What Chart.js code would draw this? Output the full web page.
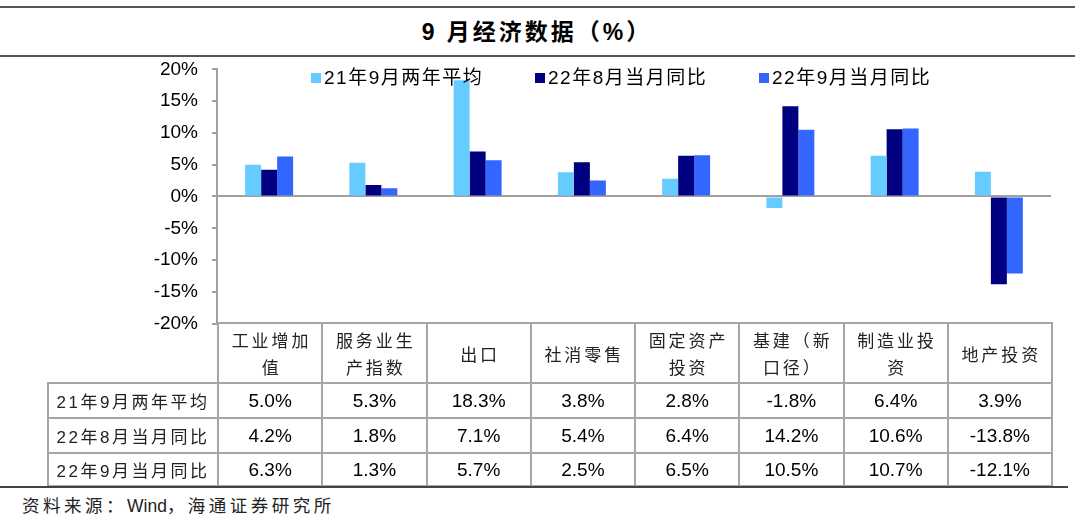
<!DOCTYPE html>
<html>
<head>
<meta charset="utf-8">
<script src="https://cdn.jsdelivr.net/npm/chart.js@4.4.0/dist/chart.umd.min.js"></script>
<style>
  body { margin: 0; width: 1080px; height: 527px; background: #fff; position: relative; overflow: hidden;
         font-family: "Liberation Sans", "Noto Sans CJK SC", sans-serif; color: #000; }
  .rule { position: absolute; left: 0; width: 1075px; height: 2px; background: #555; }
  #title { position: absolute; top: 15px; left: 7px; width: 1060px; text-align: center; font-size: 23px;
           font-weight: bold; letter-spacing: 3px; line-height: 34px; }
  #chartBox { position: absolute; left: 0; top: 44px; width: 1080px; height: 305px; }
  #legend { position: absolute; top: 66px; left: 311px; display: flex; font-size: 19px; letter-spacing: 1.5px; line-height: 24px; }
  #legend .item { width: 224px; display: flex; align-items: center; white-space: nowrap; }
  #legend .sw { width: 10px; height: 10px; margin-right: 3px; }
  table { position: absolute; left: 47px; top: 322px; width: 1004px; border-collapse: collapse; table-layout: fixed; }
  td { border: 2px solid #a6a6a6; text-align: center; padding: 0 6px; }
  td.head { font-family: "Noto Sans CJK SC", sans-serif; font-size: 17px; letter-spacing: 3px; line-height: 27px;
            word-break: break-all; padding-left: 9px; color: #222; }
  td.rowlab { font-size: 17px; letter-spacing: 2.5px; white-space: nowrap; padding: 0; color: #222; }
  td.num { font-size: 19px; }
  td.blank { border-top: none; border-left: none; }
  #bottomRule { position: absolute; left: 0; top: 486px; width: 1068px; height: 2px; background: #444; }
  #source { position: absolute; left: 22px; top: 494px; font-size: 17.5px; line-height: 24px; color: #222; }
  #source .cj { letter-spacing: 3.5px; }
</style>
</head>
<body>
<div class="rule" style="top:6px"></div>
<div id="title">9 月经济数据（%）</div>
<div class="rule" style="top:55px"></div>
<div id="chartBox"><canvas id="barChart"></canvas></div>
<div id="legend"></div>
<table id="dataTable"></table>
<div id="bottomRule"></div>
<div id="source"><span class="cj">资料来源：</span>Wind<span class="cj">，海通证券研究所</span></div>

<script>
const categories = ["工业增加值", "服务业生产指数", "出口", "社消零售", "固定资产投资", "基建（新口径）", "制造业投资", "地产投资"];
const seriesNames = ["21年9月两年平均", "22年8月当月同比", "22年9月当月同比"];
const avgTwoYear21Sep = [5.0, 5.3, 18.3, 3.8, 2.8, -1.8, 6.4, 3.9];
const yoy22Aug = [4.2, 1.8, 7.1, 5.4, 6.4, 14.2, 10.6, -13.8];
const yoy22Sep = [6.3, 1.3, 5.7, 2.5, 6.5, 10.5, 10.7, -12.1];
const yMin = -20, yMax = 20, yStep = 5;

const seriesValues = [avgTwoYear21Sep, yoy22Aug, yoy22Sep];
const seriesColors = ["#66ccff", "#000080", "#3366ff"];

// legend
const legend = document.getElementById("legend");
seriesNames.forEach(function (name, i) {
  const item = document.createElement("div");
  item.className = "item";
  item.innerHTML = '<span class="sw" style="background:' + seriesColors[i] + '"></span><span>' + name + '</span>';
  legend.appendChild(item);
});

// table under the chart
const table = document.getElementById("dataTable");
let html = '<colgroup><col style="width:170px">';
categories.forEach(function () { html += '<col style="width:104.25px">'; });
html += '</colgroup><tr style="height:60px"><td class="blank"></td>';
categories.forEach(function (c) { html += '<td class="head">' + c + '</td>'; });
html += '</tr>';
const rowHeights = [35, 35, 33];
seriesNames.forEach(function (name, i) {
  html += '<tr style="height:' + rowHeights[i] + 'px"><td class="rowlab">' + name + '</td>';
  seriesValues[i].forEach(function (v) { html += '<td class="num">' + v.toFixed(1) + '%</td>'; });
  html += '</tr>';
});
table.innerHTML = html;

new Chart(document.getElementById("barChart"), {
  type: "bar",
  data: {
    labels: categories,
    datasets: seriesNames.map(function (name, i) {
      return {
        label: name,
        data: seriesValues[i],
        backgroundColor: seriesColors[i],
        borderWidth: 0,
        categoryPercentage: 0.46,
        barPercentage: 1.0
      };
    })
  },
  options: {
    responsive: true,
    maintainAspectRatio: false,
    animation: false,
    layout: { padding: { top: 10, right: 29, bottom: 16, left: 0 } },
    plugins: { legend: { display: false }, tooltip: { enabled: false } },
    scales: {
      x: { display: false },
      y: {
        min: yMin,
        max: yMax,
        afterFit: function (s) { s.width = 217; },
        ticks: {
          stepSize: yStep,
          padding: 14,
          color: "#000",
          font: { family: "Liberation Sans", size: 19 },
          callback: function (v) { return v + "%"; }
        },
        grid: {
          color: function (ctx) { return ctx.tick && ctx.tick.value === 0 ? "#a0a0a0" : "rgba(0,0,0,0)"; },
          lineWidth: 2,
          tickColor: "#a0a0a0",
          tickLength: 5
        },
        border: { display: true, color: "#a0a0a0", width: 2 }
      }
    }
  }
});
</script>
</body>
</html>
